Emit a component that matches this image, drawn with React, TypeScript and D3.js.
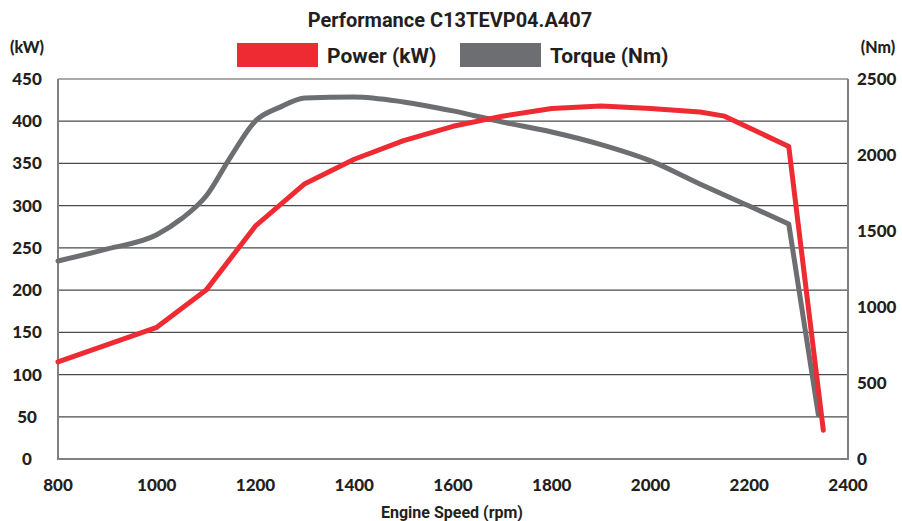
import React, { useEffect, useRef } from "react";
import * as d3 from "d3";

const powerRpm = [800, 1000, 1100, 1200, 1300, 1400, 1500, 1600, 1700, 1800, 1900, 2000, 2100, 2150, 2280, 2350];
const powerKw = [115, 156, 200, 276, 326, 355, 377, 394, 406, 415, 418, 415, 411, 406, 370, 34];

const torqueRpm = [800, 900, 1000, 1050, 1100, 1150, 1200, 1250, 1300, 1400, 1500, 1600, 1700, 1800, 1900, 2000, 2100, 2200, 2280, 2340];
const torqueNm = [1303, 1382, 1475, 1580, 1730, 1990, 2224, 2315, 2375, 2382, 2349, 2290, 2217, 2151, 2068, 1961, 1809, 1664, 1546, 290];

const xTicks = [800, 1000, 1200, 1400, 1600, 1800, 2000, 2200, 2400];
const kwTicks = [0, 50, 100, 150, 200, 250, 300, 350, 400, 450];
const nmTicks = [0, 500, 1000, 1500, 2000, 2500];

const RED = "#ee2b32";
const GREY = "#6d6e71";
const TEXT = "#231f20";
const NUM_FONT = "Lato, 'Open Sans', sans-serif";
const LABEL_FONT = "Roboto, 'Noto Sans', sans-serif";

function PerformanceChart() {
  const ref = useRef<SVGSVGElement>(null);

  useEffect(() => {
    const svg = d3.select(ref.current).attr("width", 902).attr("height", 521);
    svg.selectAll("*").remove();

    const left = 58;
    const right = 848;
    const top = 79;
    const bottom = 459;

    const x = d3.scaleLinear().domain([800, 2400]).range([left, right]);
    const yKw = d3.scaleLinear().domain([0, 450]).range([bottom, top]);
    const yNm = d3.scaleLinear().domain([0, 2500]).range([bottom, top]);

    // title
    svg.append("text")
      .attr("x", 450)
      .attr("y", 27)
      .attr("text-anchor", "middle")
      .style("font-family", LABEL_FONT)
      .style("font-weight", 700)
      .style("font-size", "20px")
      .attr("fill", TEXT)
      .text("Performance C13TEVP04.A407");

    // legend
    const legend = [
      { label: "Power (kW)", color: RED, x: 237 },
      { label: "Torque (Nm)", color: GREY, x: 460 },
    ];
    legend.forEach((l) => {
      svg.append("rect")
        .attr("x", l.x)
        .attr("y", 43)
        .attr("width", 81)
        .attr("height", 24)
        .attr("fill", l.color);
      svg.append("text")
        .attr("x", l.x + 90)
        .attr("y", 63)
        .style("font-family", LABEL_FONT)
        .style("font-weight", 700)
        .style("font-size", "21px")
        .attr("fill", TEXT)
        .text(l.label);
    });

    // units
    svg.append("text")
      .attr("x", 27).attr("y", 53).attr("text-anchor", "middle")
      .style("font-family", NUM_FONT).style("font-weight", 900).style("font-size", "16px")
      .attr("fill", TEXT).text("(kW)");
    svg.append("text")
      .attr("x", 878).attr("y", 53).attr("text-anchor", "middle")
      .style("font-family", NUM_FONT).style("font-weight", 900).style("font-size", "16px")
      .attr("fill", TEXT).text("(Nm)");

    // grid
    svg.append("g")
      .selectAll("line")
      .data(kwTicks.filter((d) => d > 0 && d < 450))
      .enter()
      .append("line")
      .attr("x1", left)
      .attr("x2", right)
      .attr("y1", (d) => yKw(d))
      .attr("y2", (d) => yKw(d))
      .attr("stroke", "#4a4a4a")
      .attr("stroke-width", 1.2);

    svg.append("line")
      .attr("x1", left).attr("x2", right)
      .attr("y1", top).attr("y2", top)
      .attr("stroke", "#555").attr("stroke-width", 1.2);

    // axis frame
    svg.append("path")
      .attr("d", `M${left},${top}V${bottom}H${right}V${top}`)
      .attr("fill", "none")
      .attr("stroke", "#808080")
      .attr("stroke-width", 2);

    const tickStyle = (sel: any) =>
      sel
        .style("font-family", NUM_FONT)
        .style("font-weight", 900)
        .style("font-size", "17px")
        .attr("fill", TEXT);

    // left ticks
    svg.append("g")
      .selectAll("text")
      .data(kwTicks)
      .enter()
      .append("text")
      .attr("x", 27)
      .attr("y", (d) => yKw(d) + 6)
      .attr("text-anchor", "middle")
      .call(tickStyle)
      .text((d) => d);

    // right ticks
    svg.append("g")
      .selectAll("text")
      .data(nmTicks)
      .enter()
      .append("text")
      .attr("x", 857)
      .attr("y", (d) => yNm(d) + 6)
      .call(tickStyle)
      .text((d) => d);

    // bottom ticks
    svg.append("g")
      .selectAll("text")
      .data(xTicks)
      .enter()
      .append("text")
      .attr("x", (d) => x(d))
      .attr("y", 491)
      .attr("text-anchor", "middle")
      .call(tickStyle)
      .text((d) => d);

    svg.append("text")
      .attr("x", 452)
      .attr("y", 518)
      .attr("text-anchor", "middle")
      .style("font-family", LABEL_FONT)
      .style("font-weight", 700)
      .style("font-size", "16px")
      .attr("fill", TEXT)
      .text("Engine Speed (rpm)");

    // series
    const n = torqueRpm.length;
    const torqueMain = d3
      .line<number>()
      .curve(d3.curveMonotoneX)
      .x((_, i) => x(torqueRpm[i]))
      .y((d) => yNm(d))(torqueNm.slice(0, n - 1));
    const torquePath = torqueMain + `L${x(torqueRpm[n - 1])},${yNm(torqueNm[n - 1])}`;

    const powerPath = d3
      .line<number>()
      .x((_, i) => x(powerRpm[i]))
      .y((d) => yKw(d))(powerKw);

    svg.append("path")
      .attr("d", torquePath)
      .attr("fill", "none")
      .attr("stroke", GREY)
      .attr("stroke-width", 5)
      .attr("stroke-linejoin", "round")
      .attr("stroke-linecap", "round");

    svg.append("path")
      .attr("d", powerPath)
      .attr("fill", "none")
      .attr("stroke", RED)
      .attr("stroke-width", 5)
      .attr("stroke-linejoin", "round")
      .attr("stroke-linecap", "round");
  }, []);

  return <svg ref={ref} style={{ position: "absolute", left: 0, top: 0 }} />;
}

export default function App() {
  return <PerformanceChart />;
}
